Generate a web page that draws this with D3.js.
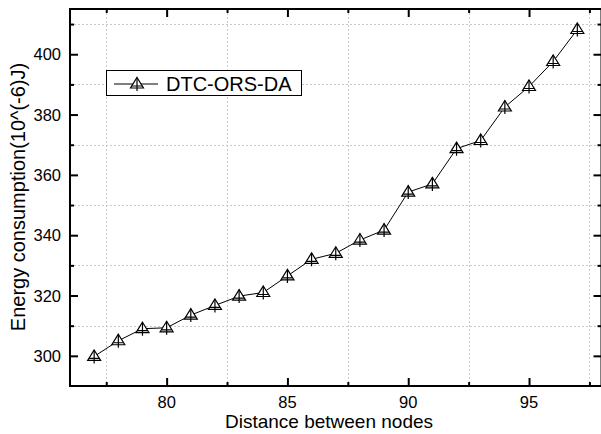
<!DOCTYPE html>
<html>
<head>
<meta charset="utf-8">
<script src="https://cdnjs.cloudflare.com/ajax/libs/d3/7.8.5/d3.min.js"></script>
<style>
  body { margin: 0; background: #fff; }
  text { font-family: "Liberation Sans", Arial, sans-serif; fill: #000; }
</style>
</head>
<body>
<div id="chart"></div>
<script>
var distance = [77, 78, 79, 80, 81, 82, 83, 84, 85, 86, 87, 88, 89, 90, 91, 92, 93, 94, 95, 96, 97];
var energy = [299.8, 305, 309, 309.3, 313.5, 316.7, 319.8, 321, 326.5, 332, 334, 338.4, 341.7, 354.3, 357, 368.7, 371.4, 382.5, 389.3, 397.6, 408.2];
var xTicks = [80, 85, 90, 95];
var xMinor = [77.5, 82.5, 87.5, 92.5, 97.5];
var yTicks = [300, 320, 340, 360, 380, 400];
var yMinor = [310, 330, 350, 370, 390, 410];
var seriesName = "DTC-ORS-DA";

var W = 601, H = 434;
// plot box (note: "top" is reserved on window, so use p* names)
var pLeft = 70, pRight = 601.5, pTop = 9, pBottom = 386;

var svg = d3.select("#chart").append("svg").attr("width", W).attr("height", H);

var x = d3.scaleLinear().domain([76, 98]).range([pLeft, pRight]);
var y = d3.scaleLinear().domain([290, 415]).range([pBottom, pTop]);

// grid at minor ticks
var grid = svg.append("g").attr("stroke", "#c8c8c8").attr("stroke-width", 1).attr("stroke-dasharray", "2,2");
xMinor.forEach(function(v){
  grid.append("line").attr("x1", Math.round(x(v)) + 0.5).attr("x2", Math.round(x(v)) + 0.5).attr("y1", pTop).attr("y2", pBottom);
});
yMinor.forEach(function(v){
  grid.append("line").attr("y1", Math.round(y(v)) + 0.5).attr("y2", Math.round(y(v)) + 0.5).attr("x1", pLeft).attr("x2", pRight);
});

// axes (ticks inward)
function axis(gen, tr, ticks, size){
  var g = svg.append("g").attr("transform", tr)
    .call(gen.tickValues(ticks).tickSize(size).tickFormat(""));
  g.select(".domain").remove();
  g.selectAll("line").attr("stroke", "#000").attr("stroke-width", 2);
  return g;
}
axis(d3.axisBottom(x), "translate(0," + pBottom + ")", xTicks, -8);
axis(d3.axisBottom(x), "translate(0," + pBottom + ")", xMinor, -4);
axis(d3.axisTop(x), "translate(0," + pTop + ")", xTicks, -8);
axis(d3.axisTop(x), "translate(0," + pTop + ")", xMinor, -4);
axis(d3.axisLeft(y), "translate(" + pLeft + ",0)", yTicks, -8);
axis(d3.axisLeft(y), "translate(" + pLeft + ",0)", yMinor, -4);
axis(d3.axisRight(y), "translate(" + pRight + ",0)", yTicks, -8);
axis(d3.axisRight(y), "translate(" + pRight + ",0)", yMinor, -4);

svg.append("rect").attr("x", pLeft).attr("y", pTop).attr("width", pRight - pLeft).attr("height", pBottom - pTop)
  .attr("fill", "none").attr("stroke", "#000").attr("stroke-width", 2);

// tick labels
svg.selectAll(".xl").data(xTicks).enter().append("text")
  .attr("x", function(d){ return x(d); }).attr("y", 408)
  .attr("text-anchor", "middle").attr("font-size", 16.5).text(function(d){ return d; });
svg.selectAll(".yl").data(yTicks).enter().append("text")
  .attr("x", 61).attr("y", function(d){ return y(d) + 6; })
  .attr("text-anchor", "end").attr("font-size", 16.5).text(function(d){ return d; });

// axis titles
svg.append("text").attr("x", 329).attr("y", 428).attr("text-anchor", "middle")
  .attr("font-size", 19).text("Distance between nodes");
svg.append("text").attr("transform", "translate(25,197) rotate(-90)").attr("text-anchor", "middle")
  .attr("font-size", 20).text("Energy consumption(10^(-6)J)");

// marker: triangle with a cross
function marker(g, cx, cy){
  g.append("path")
    .attr("d", "M" + cx + "," + (cy - 6.5) + " L" + (cx + 6.5) + "," + (cy + 4) + " L" + (cx - 6.5) + "," + (cy + 4) + " Z")
    .attr("fill", "#fff").attr("stroke", "#000").attr("stroke-width", 1.2);
  g.append("path")
    .attr("d", "M" + cx + "," + (cy - 6.5) + " V" + (cy + 7) + " M" + (cx - 5) + "," + (cy + 2) + " H" + (cx + 5))
    .attr("stroke", "#000").attr("stroke-width", 1.2).attr("fill", "none");
}

var pts = distance.map(function(d, i){ return [d, energy[i]]; });
svg.append("path").datum(pts)
  .attr("d", d3.line().x(function(d){ return x(d[0]); }).y(function(d){ return y(d[1]); }))
  .attr("fill", "none").attr("stroke", "#000").attr("stroke-width", 1);
var mk = svg.append("g");
pts.forEach(function(d){ marker(mk, x(d[0]), y(d[1])); });

// legend
var lg = svg.append("g");
lg.append("rect").attr("x", 106.5).attr("y", 70.5).attr("width", 195).attr("height", 25)
  .attr("fill", "#fff").attr("stroke", "#000").attr("stroke-width", 1);
lg.append("line").attr("x1", 114).attr("x2", 158).attr("y1", 84).attr("y2", 84).attr("stroke", "#000");
marker(lg, 137, 84);
lg.append("text").attr("x", 166).attr("y", 91).attr("font-size", 20).text(seriesName);
</script>
</body>
</html>
